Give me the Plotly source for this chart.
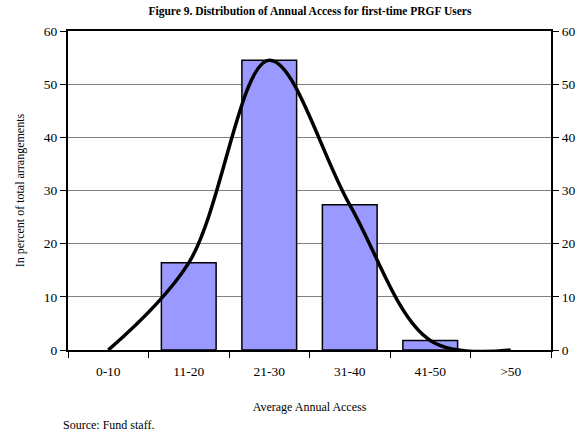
import plotly.graph_objects as go

categories = ["0-10", "11-20", "21-30", "31-40", "41-50", ">50"]
bar_values = [0.0, 16.4, 54.5, 27.3, 1.8, 0.0]
line_values = [0.0, 16.4, 54.5, 27.3, 1.8, 0.0]
y_ticks = [0, 10, 20, 30, 40, 50, 60]

FONT = "Liberation Serif"

fig = go.Figure()
fig.add_trace(go.Bar(
    x=categories, y=bar_values,
    marker=dict(color="#9999FF",
                line=dict(color="black", width=[1.5 if v > 0 else 0 for v in bar_values])),
    showlegend=False,
))
fig.add_trace(go.Scatter(
    x=categories, y=line_values, mode="lines",
    line=dict(color="black", width=3.5, shape="spline", smoothing=1.0),
    showlegend=False, cliponaxis=True,
))
# invisible trace to activate the right axis
fig.add_trace(go.Scatter(
    x=categories, y=line_values, mode="lines", yaxis="y2",
    line=dict(color="rgba(0,0,0,0)"), showlegend=False, hoverinfo="skip",
))

fig.update_layout(
    width=587, height=438,
    margin=dict(l=68, r=32, t=31, b=88),
    paper_bgcolor="white", plot_bgcolor="white",
    font=dict(family=FONT, color="black", size=13),
    bargap=0.32,
    title=dict(text="<b>Figure 9. Distribution of Annual Access for first-time PRGF Users</b>",
               x=0.528, xanchor="center", y=0.975, yanchor="middle",
               font=dict(family=FONT, size=11.5)),
    xaxis=dict(
        range=[-0.5, 5.5], tickson="boundaries", ticks="outside", ticklen=6,
        tickcolor="black", tickwidth=1, ticklabelstandoff=8,
        showline=True, linecolor="black", linewidth=2, mirror=True,
        showgrid=False, tickfont=dict(size=13.5),
        title=dict(text="Average Annual Access", font=dict(size=12), standoff=24),
    ),
    yaxis=dict(
        range=[0, 60], tickvals=y_ticks, ticks="outside", ticklen=6,
        tickcolor="black", showline=True, linecolor="black", linewidth=2,
        showgrid=True, gridcolor="#808080", gridwidth=1, zeroline=False,
        tickfont=dict(size=13.5),
        title=dict(text="In percent of total arrangements", font=dict(size=12), standoff=17),
    ),
    yaxis2=dict(
        range=[0, 60], tickvals=y_ticks, overlaying="y", side="right",
        ticks="outside", ticklen=6, tickcolor="black",
        showline=True, linecolor="black", linewidth=2,
        showgrid=False, zeroline=False, tickfont=dict(size=13.5),
    ),
    annotations=[dict(
        text="Source: Fund staff.", xref="paper", yref="paper",
        x=-0.015, y=-0.207, xanchor="left", yanchor="top", showarrow=False,
        font=dict(family=FONT, size=12),
    )],
)

fig.write_html("out.html", config={"displayModeBar": False},
               post_script="document.body.style.margin='0';document.body.style.overflow='hidden';")
